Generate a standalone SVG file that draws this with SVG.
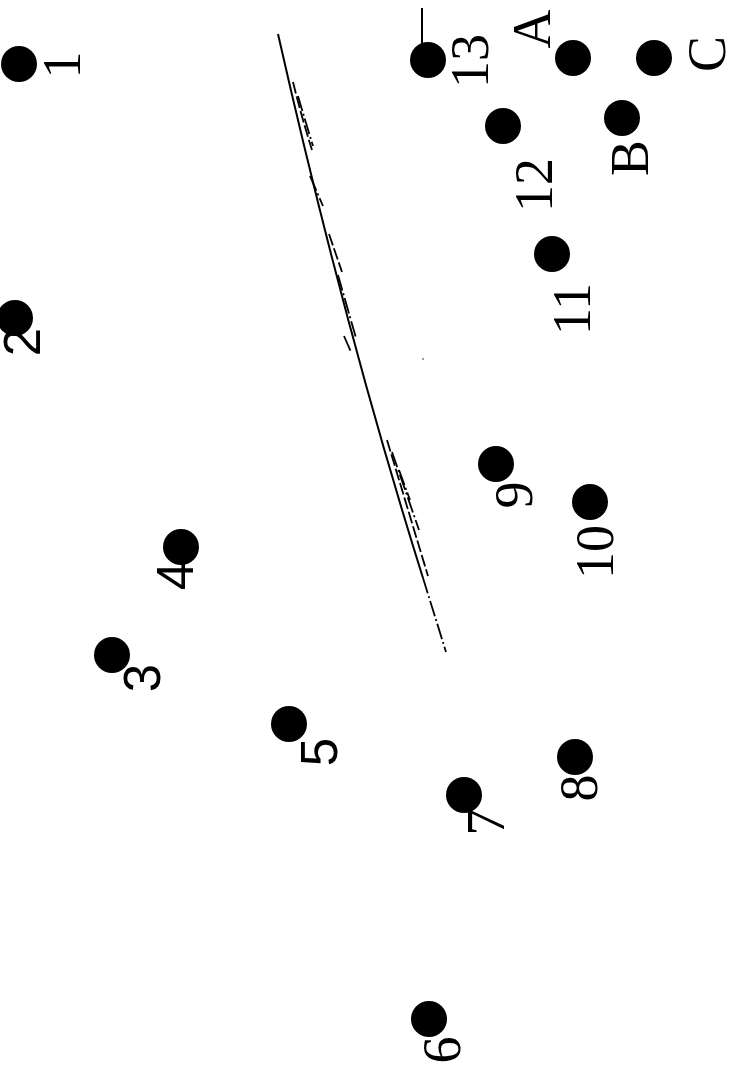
<svg xmlns="http://www.w3.org/2000/svg" width="735" height="1078" viewBox="0 0 735 1078">
<style>
.dot{fill:#000}
.s{font-family:"Liberation Serif","Times New Roman",serif;font-size:54px;fill:#000;text-anchor:middle}
.a{font-family:"Liberation Sans",Arial,sans-serif;font-size:51px;fill:#000;text-anchor:middle}
.ln{fill:none;stroke:#000;stroke-width:2}
.dd{fill:none;stroke:#000;stroke-width:1.8;stroke-dasharray:16 3 2 3}
.dsh{fill:none;stroke:#000;stroke-width:1.8;stroke-dasharray:12 3}
</style>
<rect width="735" height="1078" fill="#fff"/>
<g id="connectors">
<path class="ln" d="M278,34 Q345,330 423,578"/>
<path class="dd" d="M423,578 L446,652"/>
<path class="dsh" d="M293,82 Q301,115 312,150"/>
<path class="dd" d="M298,96 Q305,120 313,146"/>
<path class="dd" d="M310,176 L323,206"/>
<path class="dsh" d="M329,234 L342,272"/>
<path class="dd" d="M338,275 L356,338"/>
<path class="dd" d="M344,336 L351,352"/>
<path class="dsh" d="M387,440 L428,576"/>
<path class="dd" d="M392,452 L419,530"/>
<path class="dd" d="M399,470 L410,500"/>
<line class="ln" x1="422" y1="8" x2="422" y2="44"/>
<circle cx="423" cy="359" r="1" fill="#777"/>
</g>
<g id="n1"><circle class="dot" cx="19" cy="64" r="18"/><text class="s" transform="translate(80,65) rotate(-90)">1</text></g>
<g id="n2"><circle class="dot" cx="15" cy="318" r="18"/><text class="a" transform="translate(40,342) rotate(-90)">2</text></g>
<g id="n3"><circle class="dot" cx="112" cy="655" r="18"/><text class="a" transform="translate(160,678) rotate(-90)">3</text></g>
<g id="n4"><circle class="dot" cx="181" cy="547" r="18"/><text class="a" transform="translate(193,576) rotate(-90)">4</text></g>
<g id="n5"><circle class="dot" cx="289" cy="724" r="18"/><text class="a" transform="translate(337,752) rotate(-90)">5</text></g>
<g id="n6"><circle class="dot" cx="429" cy="1019" r="18"/><text class="s" transform="translate(460,1050) rotate(-90)">6</text></g>
<g id="n7"><circle class="dot" cx="464" cy="795" r="18"/><text class="s" transform="translate(504,822) rotate(-90)">7</text></g>
<g id="n8"><circle class="dot" cx="575" cy="757" r="18"/><text class="s" transform="translate(597,788) rotate(-90)">8</text></g>
<g id="n9"><circle class="dot" cx="496" cy="464" r="18"/><text class="s" transform="translate(532,495) rotate(-90)">9</text></g>
<g id="n10"><circle class="dot" cx="590" cy="502" r="18"/><text class="s" transform="translate(613,552) rotate(-90)">10</text></g>
<g id="n11"><circle class="dot" cx="552" cy="254" r="18"/><text class="s" transform="translate(590,309) rotate(-90)">11</text></g>
<g id="n12"><circle class="dot" cx="503" cy="126" r="18"/><text class="s" transform="translate(552,185) rotate(-90)">12</text></g>
<g id="n13"><circle class="dot" cx="428" cy="60" r="18"/><text class="s" transform="translate(488,61) rotate(-90)">13</text></g>
<g id="nA"><circle class="dot" cx="573" cy="58" r="18"/><text class="s" transform="translate(550,29) rotate(-90)">A</text></g>
<g id="nB"><circle class="dot" cx="622" cy="118" r="18"/><text class="s" transform="translate(648,158) rotate(-90)">B</text></g>
<g id="nC"><circle class="dot" cx="654" cy="58" r="18"/><text class="s" transform="translate(725,54) rotate(-90)">C</text></g>
</svg>
